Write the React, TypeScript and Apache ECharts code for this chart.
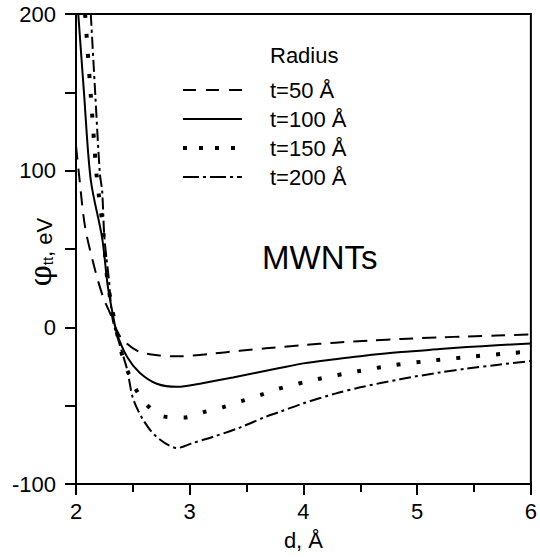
import React, { useEffect, useRef } from "react";
import * as echarts from "echarts";

// Separation d (Å) and potential φtt (eV)
const d50 = [2.0, 2.026, 2.08, 2.17, 2.24, 2.3, 2.39, 2.54, 2.74, 2.91, 3.17, 3.44, 3.67, 4.0, 4.28, 4.6, 4.86, 5.2, 5.44, 5.7, 6.0];
const v50 = [116, 98, 64, 36, 19, 9, -6, -15, -18, -18.5, -17, -15, -13.4, -11.3, -9.8, -8.4, -7.4, -6.4, -5.8, -5.2, -4.6];

const d100 = [2.02, 2.07, 2.13, 2.23, 2.28, 2.33, 2.36, 2.45, 2.56, 2.71, 2.89, 3.09, 3.38, 3.79, 4.0, 4.28, 4.5, 4.86, 5.2, 5.44, 5.7, 6.0];
const v100 = [200, 150, 94, 57, 26, 6, -4, -19, -29, -36, -38, -36, -32, -26, -23, -20.3, -18.4, -15.8, -13.9, -12.6, -11.5, -10.3];

const d150 = [2.08, 2.13, 2.18, 2.2, 2.24, 2.27, 2.32, 2.4, 2.46, 2.53, 2.63, 2.78, 2.96, 3.13, 3.29, 3.46, 3.63, 3.79, 4.13, 4.48, 4.81, 5.16, 5.51, 5.86, 6.0];
const v150 = [200, 148, 98, 85, 61, 34, 11, -16, -29, -40, -50, -57, -57.5, -54, -51, -47, -43, -39, -33, -28, -24, -21, -18.5, -16.2, -15.4];

const d200 = [2.13, 2.17, 2.21, 2.23, 2.25, 2.29, 2.32, 2.38, 2.45, 2.5, 2.59, 2.71, 2.89, 3.02, 3.2, 3.44, 3.67, 3.79, 4.0, 4.28, 4.5, 4.86, 5.2, 5.44, 5.7, 6.0];
const v200 = [200, 148, 98, 87, 57, 30, 6, -10, -27, -45, -59, -70, -77, -74, -70, -64, -57, -54, -48.5, -42.3, -38.3, -33, -28.8, -26.3, -24, -21.5];

const seriesNames = ["t=50 Å", "t=100 Å", "t=150 Å", "t=200 Å"];
const xTicks = [2, 3, 4, 5, 6];
const yTicks = [-100, 0, 100, 200];

const FONT = "'Liberation Sans', Arial, sans-serif";

const zip = (a: number[], b: number[]) => a.map((x, i) => [x, b[i]]);

export default function App() {
  const ref = useRef<HTMLDivElement>(null);
  useEffect(() => {
    if (!ref.current) return;
    const chart = echarts.init(ref.current, null, { renderer: "svg" });

    const lineStyles: any[] = [
      { color: "#000", width: 2, type: [14, 9], cap: "butt" },
      { color: "#000", width: 2, type: "solid" },
      { color: "#000", width: 4, type: [4, 16], cap: "butt" },
      { color: "#000", width: 2, type: [12, 4, 3, 4], cap: "butt" },
    ];
    const datas = [zip(d50, v50), zip(d100, v100), zip(d150, v150), zip(d200, v200)];

    const legendSamples: any[] = [
      { lineWidth: 2, lineDash: [13, 10] },
      { lineWidth: 2, lineDash: null },
      { lineWidth: 4, lineDash: [4, 12] },
      { lineWidth: 2, lineDash: [16, 4, 3, 4] },
    ];
    const rowsY = [90, 119, 148, 177];

    const graphic: any[] = [
      {
        type: "text",
        x: 270,
        y: 55,
        style: { text: "Radius", font: `22px ${FONT}`, fill: "#000", textAlign: "left", textVerticalAlign: "middle" },
      },
      {
        type: "text",
        x: 262,
        y: 257,
        style: { text: "MWNTs", font: `33px ${FONT}`, fill: "#000", textAlign: "left", textVerticalAlign: "middle" },
      },
      {
        type: "text",
        x: 40,
        y: 252,
        rotation: Math.PI / 2,
        style: {
          text: "{a|φ}{b|tt}{c|, eV}",
          textAlign: "center",
          textVerticalAlign: "middle",
          fill: "#000",
          rich: {
            a: { fontSize: 30, fontFamily: "'DejaVu Serif', serif", verticalAlign: "bottom", lineHeight: 30 },
            b: { fontSize: 15, fontFamily: FONT, verticalAlign: "bottom", lineHeight: 22 },
            c: { fontSize: 22, fontFamily: FONT, verticalAlign: "bottom", lineHeight: 30 },
          },
        },
      },
    ];
    seriesNames.forEach((name, i) => {
      graphic.push({
        type: "line",
        shape: { x1: 183, y1: rowsY[i], x2: 242, y2: rowsY[i] },
        style: { stroke: "#000", lineWidth: legendSamples[i].lineWidth, lineDash: legendSamples[i].lineDash, lineCap: "butt" },
      });
      graphic.push({
        type: "text",
        x: 270,
        y: rowsY[i],
        style: { text: name, font: `22px ${FONT}`, fill: "#000", textAlign: "left", textVerticalAlign: "middle" },
      });
    });

    chart.setOption({
      animation: false,
      backgroundColor: "#fff",
      grid: { left: 76, right: 7, top: 14, bottom: 73, show: true, borderColor: "#000", borderWidth: 2 },
      xAxis: {
        type: "value",
        min: 2,
        max: 6,
        interval: 1,
        name: "d, Å",
        nameLocation: "middle",
        nameGap: 45,
        nameTextStyle: { fontSize: 22, fontFamily: FONT, color: "#000" },
        axisLine: { show: true, onZero: false, lineStyle: { color: "#000", width: 2 } },
        axisTick: { show: true, length: 11, lineStyle: { color: "#000", width: 2 } },
        minorTick: { show: true, splitNumber: 2, length: 8, lineStyle: { color: "#000", width: 2 } },
        splitLine: { show: false },
        axisLabel: {
          fontSize: 22,
          fontFamily: FONT,
          color: "#000",
          margin: 16,
          formatter: (v: number) => (xTicks.includes(v) ? String(v) : ""),
        },
      },
      yAxis: {
        type: "value",
        min: -100,
        max: 200,
        interval: 50,
        axisLine: { show: true, onZero: false, lineStyle: { color: "#000", width: 2 } },
        axisTick: { show: true, length: 11, lineStyle: { color: "#000", width: 2 } },
        splitLine: { show: false },
        axisLabel: {
          fontSize: 22,
          fontFamily: FONT,
          color: "#000",
          margin: 20,
          formatter: (v: number) => (yTicks.includes(v) ? String(v) : ""),
        },
      },
      graphic,
      series: seriesNames.map((name, i) => ({
        name,
        type: "line",
        data: datas[i],
        smooth: 0.3,
        showSymbol: false,
        symbol: "none",
        clip: true,
        lineStyle: lineStyles[i],
      })),
    });
    return () => chart.dispose();
  }, []);
  return <div ref={ref} style={{ position: "absolute", left: 0, top: 0, width: 540, height: 557 }} />;
}
